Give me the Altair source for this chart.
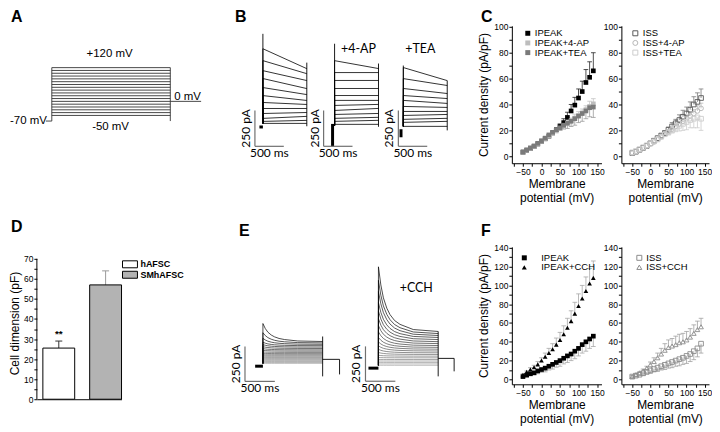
import altair as alt
import pandas as pd

FONT = "Liberation Sans"
FONT2 = "Lato"

# ---------------- shared membrane-potential steps (mV) ----------------
VM = [-50, -40, -30, -20, -10, 0, 10, 20, 30, 40, 50, 60, 70, 80, 90, 100, 110, 120, 130, 140]

# ---------------- C (left): IPEAK ----------------
C_IPEAK = [3, 4.5, 6, 7.5, 9.5, 11.5, 13.5, 15.5, 18, 20.5, 23, 26, 30, 35, 39.5, 45, 50, 57, 61, 66]
C_IPEAK_ERR = [0, 0, 0, 0, 0, 0, 0, 0, 0, 0, 2, 3, 4, 5, 6, 7, 8, 10, 12, 14]
C_IPEAK_4AP = [3, 4.5, 6, 7.5, 9.5, 11.5, 13.5, 15.5, 17.5, 19.5, 21.5, 23.5, 25.5, 27.5, 29.5, 31.5, 33.5, 36, 38.5, 40.5]
C_IPEAK_4AP_ERR = [0, 0, 0, 0, 0, 0, 0, 0, 0, 1, 1, 2, 2, 2, 3, 3, 3, 3, 4, 4]
C_IPEAK_TEA = [3.5, 5, 6.5, 8, 10, 12, 14, 16.5, 18.5, 20.5, 22, 24, 25.5, 27, 29, 31, 33, 35, 37.5, 38]
C_IPEAK_TEA_ERR = [0, 0, 0, 0, 0, 0, 0, 0, 1, 1, 2, 3, 4, 4, 5, 5, 6, 6, 7, 8]
# ---------------- C (right): ISS ----------------
C_ISS = [2.5, 3.5, 5, 6.5, 8, 10, 12, 14, 16, 18, 20.5, 23, 25.5, 28, 30.5, 33, 36, 40, 42, 45]
C_ISS_ERR = [0, 0, 0, 0, 0, 0, 0, 0, 1, 1, 2, 3, 3, 4, 5, 5, 6, 6, 7, 7]
C_ISS_4AP = [2.5, 3.5, 5, 6.5, 8, 9.5, 11, 13, 15, 17, 19, 21, 23, 25, 27, 29, 31, 33, 35, 37]
C_ISS_4AP_ERR = [0, 0, 0, 0, 0, 0, 0, 0, 0, 1, 1, 1, 2, 2, 2, 3, 3, 3, 4, 4]
C_ISS_TEA = [3, 4, 5.5, 7, 8.5, 10, 11.5, 13, 15, 17, 18.5, 20, 22, 23.5, 25, 26.5, 28, 29, 30, 29]
C_ISS_TEA_ERR = [0, 0, 0, 0, 0, 0, 0, 0, 0, 1, 2, 2, 3, 4, 5, 6, 6, 7, 8, 9]

# ---------------- F (left / right) ----------------
F_IPEAK = [3, 4.5, 6, 7, 9, 10.5, 12, 14, 16, 18, 20, 22.5, 25, 27, 30, 33, 37, 40, 43, 46]
F_IPEAK_ERR = [1, 1, 2, 2, 3, 3, 4, 4, 5, 5, 6, 6, 7, 7, 8, 8, 9, 10, 10, 11]
F_IPEAK_CCH = [5, 8, 10.5, 13, 16, 20, 24, 28, 32, 37, 42, 48, 55, 62, 70, 78, 86, 94, 102, 108]
F_IPEAK_CCH_ERR = [1, 1, 2, 2, 3, 3, 4, 5, 6, 7, 8, 9, 10, 11, 12, 13, 14, 15, 16, 18]
F_ISS = [3, 4, 5, 6.5, 8, 9.5, 11, 12.5, 14, 15.5, 17, 18.5, 20, 21.5, 23, 25, 27, 30, 33, 38]
F_ISS_ERR = [1, 1, 1, 2, 2, 3, 3, 4, 4, 5, 5, 6, 6, 7, 7, 8, 8, 9, 9, 10]
F_ISS_CCH = [3, 5, 7, 9, 12, 15.5, 19, 23, 27, 31, 34, 35.5, 37, 39, 40, 42, 45, 49, 53, 56]
F_ISS_CCH_ERR = [1, 1, 1, 2, 2, 3, 4, 5, 6, 7, 8, 8, 9, 9, 9, 9, 9, 9, 9, 9]

# ---------------- D: cell capacitance ----------------
D_CELL = ["hAFSC", "SMhAFSC"]
D_MEAN = [25.5, 57]
D_SEM = [3.5, 7]
D_SIG = ["**", ""]

# ---------------- A: voltage protocol ----------------
A_STEPS = [-50, -40, -30, -20, -10, 0, 10, 20, 30, 40, 50, 60, 70, 80, 90, 100, 110, 120]
A_HOLD = -70
A_POST = 0
A_TIMES = [-50, 0, 1000, 1260]   # holding start, step on, step off, tail end (ms)

# ---------------- B: current traces (pA) ----------------
B_DUR = 760
B1_START = [521, 438, 368, 313, 250, 194, 146, 104, 69, 35, 14, 0]
B1_END = [382, 347, 299, 243, 201, 160, 132, 104, 76, 49, 21, 0]
B1_CAP = [625, 424]
B2_START = [451, 368, 313, 257, 208, 174, 139, 104, 76, 49, 28, 7]
B2_END = [396, 368, 313, 257, 208, 174, 146, 118, 83, 56, 35, 7]
B2_CAP = [569, 431]
B3_START = [410, 333, 264, 215, 181, 139, 104, 76, 49, 28, 0]
B3_END = [319, 285, 229, 194, 160, 132, 104, 83, 56, 35, 0]
B3_CAP = [424, 319]

# ---------------- E: current traces (pA) ----------------
E_DUR = 1000
E_DECAY_T = [0, 40, 83, 140, 194, 270, 361, 583, 1000]
E_DECAY_F = [1, 0.72, 0.52, 0.36, 0.26, 0.17, 0.11, 0.03, 0]
E1_END = [0, 6, 12, 18, 25, 32, 39, 46, 54, 62, 70, 79, 88, 97, 107, 117, 127, 137, 147, 157]
E1_PEAK = [0, 6, 12, 18, 25, 32, 39, 46, 54, 62, 72, 82, 94, 106, 120, 135, 152, 180, 220, 286]
E1_TAIL = 29
E2_END = [0, 10, 20, 31, 42, 54, 66, 78, 90, 103, 116, 129, 142, 156, 170, 185, 200, 214, 228, 243]
E2_PEAK = [0, 10, 20, 31, 42, 56, 72, 92, 115, 140, 168, 200, 240, 285, 335, 390, 450, 530, 610, 707]
E2_TAIL = 50

RESOLVE = dict(color="independent", shape="independent", stroke="independent", fill="independent")


# ====================================================================
def letter(ch, x, y):
    return alt.Chart(pd.DataFrame({"t": [ch]})).mark_text(
        font=FONT, fontSize=16, fontWeight="bold", align="left", baseline="top", color="black"
    ).encode(text="t:N", x=alt.value(x), y=alt.value(y))


def note(txt, x, y, size=12, font=FONT2, align="center", baseline="middle", weight="normal"):
    return alt.Chart(pd.DataFrame({"t": [txt]})).mark_text(
        font=font, fontSize=size, align=align, baseline=baseline, color="black", fontWeight=weight
    ).encode(text="t:N", x=alt.value(x), y=alt.value(y))


def key(names, colors, shapes, filled, x0, y0, dy, lab_dx, size=25):
    """Hand-placed legend: one symbol + label per series."""
    out = []
    for k, (n, c, s) in enumerate(zip(names, colors, shapes)):
        y = y0 + k * dy
        out.append(alt.Chart(pd.DataFrame({"t": [n]})).mark_point(
            shape=s, filled=filled, size=size, color=c, opacity=1, strokeWidth=1
        ).encode(x=alt.value(x0), y=alt.value(y)))
        out.append(note(n, x0 + lab_dx, y, 9.5, FONT, align="left"))
    return out


def iv_panel(series, colors, shapes, ecolors, filled, ydom, yvals, ymaj, ytitle,
             leg, w, h, extra=()):
    rows = []
    for name, vals, errs, sign in series:
        for v, y, e in zip(VM, vals, errs):
            rows.append({"V": v, "I": y, "E": y + sign * e, "e": e, "s": name})
    df = pd.DataFrame(rows)
    names = [s[0] for s in series]
    xs = alt.Scale(domain=[-80, 162], nice=False, zero=False)
    ys = alt.Scale(domain=ydom, nice=False, zero=False)
    xax = alt.Axis(values=[-75, -50, -25, 0, 25, 50, 75, 100, 125, 150],
                   labelExpr="datum.value % 50 == 0 ? datum.label : ''",
                   title=["Membrane", "potential (mV)"], titlePadding=3, titleLineHeight=14)
    yax = alt.Axis(values=yvals, labelExpr="datum.value %% %d == 0 ? datum.label : ''" % ymaj,
                   title=ytitle, titlePadding=3)
    X = alt.X("V:Q", scale=xs, axis=xax)
    estroke = alt.Stroke("s:N", scale=alt.Scale(domain=names, range=ecolors), legend=None)
    err = alt.Chart(df).transform_filter("datum.e > 0")
    rules = err.mark_rule(strokeWidth=0.8).encode(
        x=X, y=alt.Y("I:Q", scale=ys, axis=yax), y2="E:Q", stroke=estroke)
    caps = err.mark_point(shape="stroke", size=22, strokeWidth=0.8, opacity=1).encode(
        x=X, y=alt.Y("E:Q", scale=ys, axis=yax), stroke=estroke)
    pts = alt.Chart(df).mark_point(filled=filled, size=22, opacity=1, strokeWidth=0.9).encode(
        x=X, y=alt.Y("I:Q", scale=ys, axis=yax),
        color=alt.Color("s:N", scale=alt.Scale(domain=names, range=colors), legend=None),
        shape=alt.Shape("s:N", scale=alt.Scale(domain=names, range=shapes), legend=None))
    lx, ly, ldy, ldx = leg
    layers = [rules, caps, pts] + key(names, colors, shapes, filled, lx, ly, ldy, ldx) + list(extra)
    return alt.layer(*layers).properties(width=w, height=h)


def trace_panel(traces, segs, thick, bar, xdom, ydom, w, h, grad=None, extras=()):
    xs = alt.Scale(domain=xdom, nice=False, zero=False)
    ys = alt.Scale(domain=ydom, nice=False, zero=False)
    if grad is None:
        lines = alt.Chart(traces).mark_line(strokeWidth=0.8, color="black").encode(
            x=alt.X("t:Q", scale=xs, axis=None), y=alt.Y("i:Q", scale=ys, axis=None),
            detail="k:N", order="o:Q")
    else:
        lines = alt.Chart(traces).mark_line(strokeWidth=0.7).encode(
            x=alt.X("t:Q", scale=xs, axis=None), y=alt.Y("i:Q", scale=ys, axis=None),
            detail="k:N", order="o:Q",
            color=alt.Color("k:Q", scale=alt.Scale(domain=[0, grad], range=["#a8a8a8", "#000000"]),
                            legend=None))
    segl = alt.Chart(segs).mark_rule(color="black", strokeWidth=0.9).encode(
        x=alt.X("t0:Q", scale=xs, axis=None), x2="t1:Q",
        y=alt.Y("i0:Q", scale=ys, axis=None), y2="i1:Q")
    thk = alt.Chart(thick).mark_rule(color="black", strokeWidth=3).encode(
        x=alt.X("t0:Q", scale=xs, axis=None), x2="t1:Q",
        y=alt.Y("i0:Q", scale=ys, axis=None), y2="i1:Q")
    t0, i0 = bar
    sb = pd.DataFrame({"t0": [t0, t0], "t1": [t0 + 500, t0], "i0": [i0, i0], "i1": [i0, i0 + 250]})
    sbl = alt.Chart(sb).mark_rule(color="#707070", strokeWidth=1.2).encode(
        x=alt.X("t0:Q", scale=xs, axis=None), x2="t1:Q",
        y=alt.Y("i0:Q", scale=ys, axis=None), y2="i1:Q")
    lab = pd.DataFrame({"tx": [t0 + 250], "iy": [i0], "tv": [t0], "iv": [i0 + 125]})
    ms = alt.Chart(lab).mark_text(font=FONT2, fontSize=12, baseline="top", dy=2, color="black",
                                  text="500 ms").encode(
        x=alt.X("tx:Q", scale=xs, axis=None), y=alt.Y("iy:Q", scale=ys, axis=None))
    pa = alt.Chart(lab).mark_text(font=FONT2, fontSize=12, baseline="bottom", dy=-2, angle=270,
                                  color="black", text="250 pA").encode(
        x=alt.X("tv:Q", scale=xs, axis=None), y=alt.Y("iv:Q", scale=ys, axis=None))
    return alt.layer(lines, segl, thk, sbl, ms, pa, *extras).properties(width=w, height=h)


def simple_traces(starts, ends, dur):
    rows = []
    for k, (s, e) in enumerate(zip(starts, ends)):
        rows += [{"k": k, "o": 0, "t": 0, "i": 0}, {"k": k, "o": 1, "t": 0, "i": s},
                 {"k": k, "o": 2, "t": dur, "i": e}]
    return pd.DataFrame(rows)


def decay_traces(peaks, ends):
    rows = []
    for k, (p, e) in enumerate(zip(peaks, ends)):
        rows.append({"k": k, "o": -1, "t": 0, "i": 0})
        for j, (t, f) in enumerate(zip(E_DECAY_T, E_DECAY_F)):
            rows.append({"k": k, "o": j, "t": t, "i": e + (p - e) * f})
    return pd.DataFrame(rows)


def segdf(lst):
    return pd.DataFrame(lst, columns=["t0", "t1", "i0", "i1"])


def spacer(w, h):
    return alt.Chart(pd.DataFrame({"z": [0]})).mark_point(opacity=0).encode(
        x=alt.X("z:Q", axis=None), y=alt.Y("z:Q", axis=None)).properties(width=w, height=h)


# ---------------- Panel A ----------------
a_rows = [(A_TIMES[0], A_TIMES[1], A_HOLD, A_HOLD),
          (A_TIMES[1], A_TIMES[1], A_HOLD, A_STEPS[-1]),
          (A_TIMES[2], A_TIMES[2], A_HOLD, A_STEPS[-1]),
          (A_TIMES[2], A_TIMES[3], A_POST, A_POST)]
a_rows += [(A_TIMES[1], A_TIMES[2], v, v) for v in A_STEPS]
a_df = segdf(a_rows)
ax_s = alt.Scale(domain=[-126, 1521], nice=False, zero=False)
ay_s = alt.Scale(domain=[-220, 268.7], nice=False, zero=False)
panelA = alt.layer(
    alt.Chart(a_df).mark_rule(color="#333333", strokeWidth=0.9).encode(
        x=alt.X("t0:Q", scale=ax_s, axis=None), x2="t1:Q",
        y=alt.Y("i0:Q", scale=ay_s, axis=None), y2="i1:Q"),
    note("+120 mV", 73, 28, 11.5, FONT),
    note("-50 mV", 74, 102, 11.5, FONT),
    note("0 mV", 138, 71, 11.5, FONT, align="left"),
    note("-70 mV", 10, 96, 11.5, FONT, align="right"),
    letter("A", -26, -17),
).properties(width=196, height=138)

# ---------------- Panel B ----------------
b1 = trace_panel(simple_traces(B1_START, B1_END, B_DUR),
                 segdf([(0, 0, 0, B1_CAP[0]), (B_DUR, B_DUR, B1_CAP[1], -20)]),
                 segdf([(-60, 0, -25, -25)]),
                 (-138, -160), [-534, 931], [-278, 681], 85, 138,
                 extras=(letter("B", 3, -17),))
b2 = trace_panel(simple_traces(B2_START, B2_END, B_DUR),
                 segdf([(0, 0, 0, B2_CAP[0]), (B_DUR, B_DUR, B2_CAP[1], -10)]),
                 segdf([(-35, -35, -146, 10)]),
                 (-190, -146), [-310, 983], [-264, 694], 75, 138,
                 extras=(note("+4-AP", 42, 23, 12.5),))
b3 = trace_panel(simple_traces(B3_START, B3_END, B_DUR),
                 segdf([(0, 0, 0, B3_CAP[0]), (B_DUR, B_DUR, B3_CAP[1], -28)]),
                 segdf([(-40, -40, -76, -20)]),
                 (-86, -139), [-207, 1879], [-257, 701], 121, 138,
                 extras=(note("+TEA", 29, 23, 12.5),))

# ---------------- Panel C ----------------
cy = [0, 10, 20, 30, 40, 50, 60, 70, 80, 90, 100]
c1 = iv_panel([("IPEAK", C_IPEAK, C_IPEAK_ERR, 1),
               ("IPEAK+4-AP", C_IPEAK_4AP, C_IPEAK_4AP_ERR, 1),
               ("IPEAK+TEA", C_IPEAK_TEA, C_IPEAK_TEA_ERR, -1)],
              ["#000000", "#bdbdbd", "#7a7a7a"], ["square", "square", "square"],
              ["#222222", "#c4c4c4", "#9a9a9a"], True,
              [-5.4, 100.8], cy, 20, "Current density (pA/pF)", (16, 7.5, 9.7, 7), 90, 138,
              extra=(letter("C", -31, -17),))
c2 = iv_panel([("ISS", C_ISS, C_ISS_ERR, 1),
               ("ISS+4-AP", C_ISS_4AP, C_ISS_4AP_ERR, 1),
               ("ISS+TEA", C_ISS_TEA, C_ISS_TEA_ERR, -1)],
              ["#5a5a5a", "#b5b5b5", "#cdcdcd"], ["square", "circle", "square"],
              ["#7a7a7a", "#bdbdbd", "#cdcdcd"], False,
              [-5.4, 100.8], cy, 20, None, (14, 7.5, 9.7, 7.5), 88, 138)

# ---------------- Panel D ----------------
d_df = pd.DataFrame({"cell": D_CELL, "mean": D_MEAN, "hi": [m + s for m, s in zip(D_MEAN, D_SEM)],
                     "sig": D_SIG})
dxs = alt.Scale(domain=D_CELL, paddingInner=0.32, paddingOuter=0.064, align=1)
dys = alt.Scale(domain=[0, 75.96], nice=False)
D_FILL = ["#ffffff", "#b3b3b3"]
dX = alt.X("cell:N", scale=dxs, axis=alt.Axis(labels=False, ticks=False, title=None, domain=True))
dyax = alt.Axis(values=[0, 5, 10, 15, 20, 25, 30, 35, 40, 45, 50, 55, 60, 65, 70],
                labelExpr="datum.value % 10 == 0 ? datum.label : ''", title="Cell dimension (pF)",
                domain=False, titlePadding=2, labelPadding=1)
dstroke = alt.Stroke("cell:N", scale=alt.Scale(domain=D_CELL, range=["#333333", "#9a9a9a"]), legend=None)
d_key = []
for k, (n, f) in enumerate(zip(D_CELL, D_FILL)):
    y0 = 14 + k * 10.5
    d_key.append(alt.Chart(pd.DataFrame({"t": [n]})).mark_rect(fill=f, stroke="black", strokeWidth=1).encode(
        x=alt.value(86), x2=alt.value(101), y=alt.value(y0), y2=alt.value(y0 + 7)))
    d_key.append(note(n, 104, y0 + 3.5, 9, FONT, align="left", weight="bold"))
panelD = alt.layer(
    alt.Chart(d_df).mark_rule(strokeWidth=1).encode(x=dX, y=alt.Y("mean:Q", scale=dys, axis=dyax),
                                                    y2="hi:Q", stroke=dstroke),
    alt.Chart(d_df).mark_point(shape="stroke", size=49, strokeWidth=1, opacity=1).encode(
        x=dX, y=alt.Y("hi:Q", scale=dys, axis=dyax), stroke=dstroke),
    alt.Chart(d_df).mark_bar(stroke="black", strokeWidth=1).encode(
        x=dX, y=alt.Y("mean:Q", scale=dys, axis=dyax),
        fill=alt.Fill("cell:N", scale=alt.Scale(domain=D_CELL, range=D_FILL), legend=None)),
    alt.Chart(d_df).mark_text(baseline="bottom", dy=-2, fontSize=10, fontWeight="bold", font=FONT,
                              color="black").encode(
        x=dX, y=alt.Y("hi:Q", scale=dys, axis=dyax), text="sig:N"),
    alt.Chart(pd.DataFrame({"a": [0], "b": [70]})).mark_rule(color="black", strokeWidth=1).encode(
        x=alt.value(0), y=alt.Y("a:Q", scale=dys, axis=dyax), y2="b:Q"),
    *d_key,
    letter("D", -26, -28),
).properties(width=85, height=153)

# ---------------- Panel E ----------------
e1 = trace_panel(decay_traces(E1_PEAK, E1_END),
                 segdf([(E_DUR, E_DUR, 193, -93), (E_DUR, 1283, E1_TAIL, E1_TAIL),
                        (1283, 1283, E1_TAIL, -79)]),
                 segdf([(-130, 0, -20, -20)]),
                 (-300, -129), [-600, 1567], [-257, 836], 130, 153, grad=len(E1_END) - 1,
                 extras=(letter("E", 12, -24),))
e2 = trace_panel(decay_traces(E2_PEAK, E2_END),
                 segdf([(E_DUR, E_DUR, 243, -79), (E_DUR, 1267, E2_TAIL, E2_TAIL),
                        (1267, 1267, E2_TAIL, -43)]),
                 segdf([(-167, 0, -20, -20)]),
                 (-217, -114), [-367, 2233], [-243, 850], 156, 153, grad=len(E2_END) - 1,
                 extras=(note("+CCH", 60, 41, 12.5),))

# ---------------- Panel F ----------------
fy = [0, 10, 20, 30, 40, 50, 60, 70, 80, 90, 100, 110, 120, 130, 140]
f1 = iv_panel([("IPEAK", F_IPEAK, F_IPEAK_ERR, -1),
               ("IPEAK+CCH", F_IPEAK_CCH, F_IPEAK_CCH_ERR, 1)],
              ["#000000", "#000000"], ["square", "triangle-up"], ["#a8a8a8", "#a8a8a8"], True,
              [-5.2, 141], fy, 20, "Current density (pA/pF)", (12.5, 11, 9.5, 17), 90, 138,
              extra=(letter("F", -31, -24),))
f2 = iv_panel([("ISS", F_ISS, F_ISS_ERR, -1),
               ("ISS+CCH", F_ISS_CCH, F_ISS_CCH_ERR, 1)],
              ["#8c8c8c", "#8c8c8c"], ["square", "triangle-up"], ["#a0a0a0", "#a0a0a0"], False,
              [-5.2, 141], fy, 20, None, (18, 11, 9.5, 7), 88, 138)

top = alt.hconcat(panelA, b1, b2, b3, c1, spacer(20, 138), c2,
                  spacing=0, bounds="flush").resolve_scale(**RESOLVE)
bottom = alt.hconcat(panelD, spacer(106, 153), e1, e2, f1, spacer(20, 138), f2,
                     spacing=0, bounds="flush").resolve_scale(**RESOLVE)

chart = alt.vconcat(top, bottom, spacing=222, bounds="flush").resolve_scale(**RESOLVE).properties(
    padding=0
).configure_view(stroke=None).configure_axis(
    labelFont=FONT, titleFont=FONT, labelFontSize=8.5, titleFontSize=12, titleFontWeight="normal",
    labelColor="black", titleColor="black", domainColor="black", tickColor="black", tickSize=3,
    grid=False, labelPadding=1, labelFlush=False, labelOverlap=False, domainWidth=1, tickWidth=1
)

chart.save("out.html", embed_options={"renderer": "svg", "actions": False})
